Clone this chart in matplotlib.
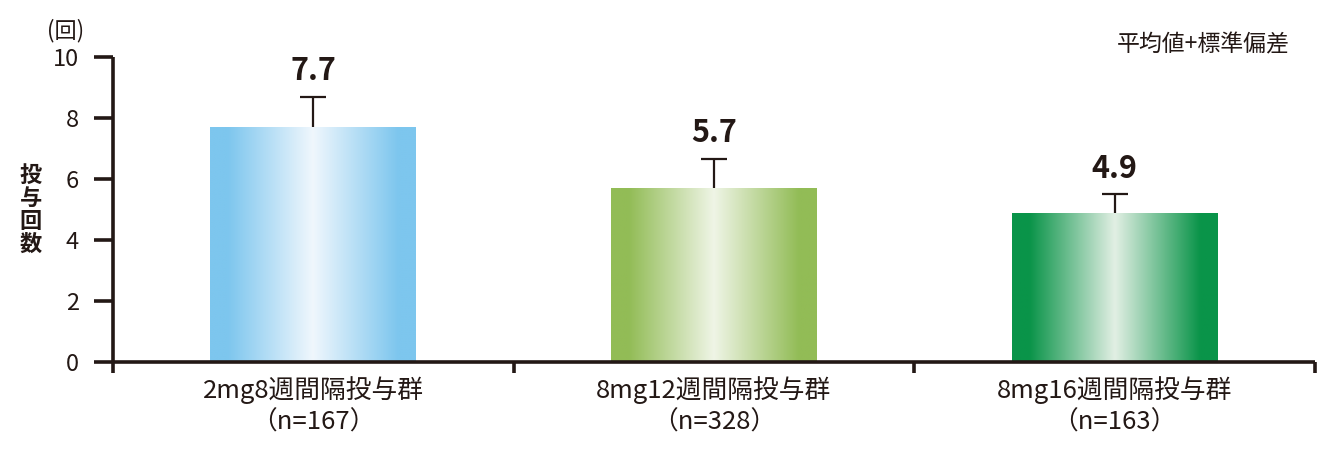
import numpy as np
import matplotlib
matplotlib.use("Agg")
import matplotlib.pyplot as plt
from matplotlib.colors import to_rgb

plt.rcParams['font.family'] = ['Noto Sans CJK JP', 'DejaVu Sans']

# ---- data ----
categories = ["2mg8週間隔投与群\n（n=167）", "8mg12週間隔投与群\n（n=328）", "8mg16週間隔投与群\n（n=163）"]
means = [7.7, 5.7, 4.9]
sds = [1.0, 0.95, 0.6]
value_labels = ["7.7", "5.7", "4.9"]
edge_colors = ["#7DC6EE", "#92BC56", "#0A9449"]
center_colors = ["#F0F7FD", "#EFF5E6", "#E2EFE4"]
yticks = [0, 2, 4, 6, 8, 10]

ink = "#231815"

fig = plt.figure(figsize=(13.35, 4.55), dpi=100)
ax = fig.add_axes([0.0846, 0.2044, 0.9004, 0.6703])

x = np.arange(len(categories))
bw = 0.514
bars = ax.bar(x, means, width=bw, color="none", edgecolor="none", zorder=2)

# horizontal gradient fill for each bar
t = np.linspace(-1, 1, 256)
mix = np.clip(np.abs(t) / 0.83, 0, 1)
for b, ec, cc in zip(bars, edge_colors, center_colors):
    e = np.array(to_rgb(ec)); c = np.array(to_rgb(cc))
    img = c[None, :] + (e - c)[None, :] * mix[:, None]
    img = img[None, :, :]
    x0, y0 = b.get_x(), b.get_y()
    w, h = b.get_width(), b.get_height()
    im = ax.imshow(img, extent=[x0, x0 + w, y0, y0 + h], aspect='auto',
                   zorder=2, interpolation='bilinear')
    im.set_clip_path(b)

# error bars (upper only, cap only at top)
tops = np.array(means) + np.array(sds)
ax.vlines(x, means, tops, colors=ink, linewidth=1.6, zorder=3)
ax.plot(x, tops, linestyle='none', marker='_', markersize=19, markeredgewidth=1.6,
        color=ink, zorder=3)

for xi, tp, lab in zip(x, tops, value_labels):
    ax.annotate(lab, (xi, tp), xytext=(0, 7), textcoords='offset points',
                ha='center', va='bottom', fontsize=22, fontweight='bold', color=ink)

ax.set_xlim(-0.5, 2.5)
ax.set_ylim(0, 10)
for sp in ['top', 'right']:
    ax.spines[sp].set_visible(False)
for sp in ['left', 'bottom']:
    ax.spines[sp].set_linewidth(2.6)
    ax.spines[sp].set_color(ink)
    ax.spines[sp].set_capstyle('butt')

ax.set_yticks(yticks)
ax.set_yticklabels([str(v) for v in yticks])
ax.tick_params(axis='y', direction='out', length=13.5, width=2.6, color=ink,
               labelsize=17, labelcolor=ink, pad=11)

ax.set_xticks([-0.5, 0.5, 1.5, 2.5])
ax.set_xticklabels([])
ax.tick_params(axis='x', which='major', direction='out', length=8, width=2.6, color=ink)
ax.set_xticks(x, minor=True)
ax.set_xticklabels(categories, minor=True)
ax.tick_params(axis='x', which='minor', length=0, labelsize=18.5, labelcolor=ink, pad=10)
for lbl in ax.get_xticklabels(minor=True):
    lbl.set_linespacing(1.3)

# y label stacked vertically
fig.text(31 / 1335, 1 - 210 / 455, "投\n与\n回\n数", ha='center', va='center',
         fontsize=16, fontweight='bold', color=ink, linespacing=1.0)
fig.text(66 / 1335, 1 - 31 / 455, "(回)", ha='center', va='center', fontsize=16, color=ink)
fig.text(1290 / 1335, 1 - 45 / 455, "平均値+標準偏差", ha='right', va='center', fontsize=16.5, color=ink)

fig.savefig("out.png", dpi=100)
